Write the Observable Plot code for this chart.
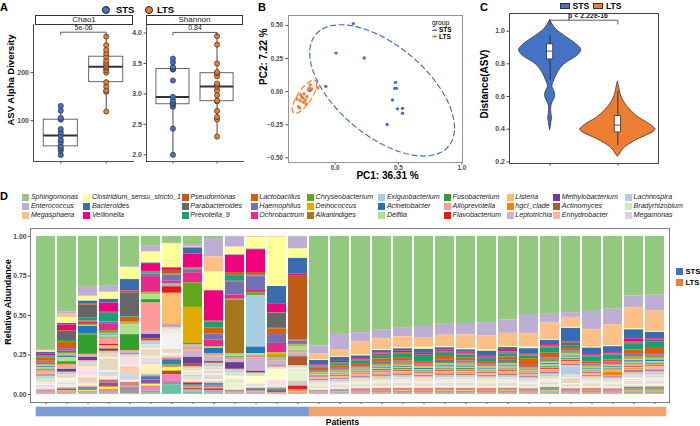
<!DOCTYPE html>
<html>
<head>
<meta charset="utf-8">
<script src="https://cdn.jsdelivr.net/npm/d3@7"></script>
<script src="https://cdn.jsdelivr.net/npm/@observablehq/plot@0.6"></script>
<style>
  html,body{margin:0;padding:0;background:#fff;}
  #fig{position:relative;width:700px;height:426px;overflow:hidden;background:#fff;font-family:"Liberation Sans",Arial,Helvetica,sans-serif;color:#000;}
  .t{position:absolute;white-space:nowrap;line-height:1;}
  .c{transform:translate(-50%,-50%);}
  .l{transform:translate(0,-50%);}
  .r{transform:translate(-50%,-50%) rotate(-90deg);}
  .b{font-weight:bold;}
  .strip{position:absolute;box-sizing:border-box;border:1px solid #333;background:#fff;font-size:8px;text-align:center;line-height:7px;color:#1a1a1a;}
  .leg{position:absolute;display:grid;grid-auto-flow:column;grid-template-rows:repeat(3,9px);}
  .leg div{display:flex;align-items:center;font-style:italic;font-size:7.1px;color:#1a1a1a;white-space:nowrap;}
  .leg span.sw{display:inline-block;width:7px;height:6.5px;margin-right:1.6px;flex:none;}
  .sq{position:absolute;box-sizing:border-box;}
  .dotk{position:absolute;border-radius:50%;box-sizing:border-box;border:0.8px solid #222;}
</style>
</head>
<body>
<div id="fig"></div>
<script>
// ---------------- DATA ----------------
const groups = ["STS", "LTS"];
const groupColors = ["#4472C4", "#ED7D31"];
const groupStripColors = ["#7C9CD6", "#F2A46F"];

// Panel A: alpha diversity
const chao1STS = [28.5, 37.5, 42, 46.5, 55, 60, 69, 75.7, 82.6, 102, 105.6, 120.8, 130.6];
const chao1LTS = [119, 160, 163, 171, 180, 200, 205, 210, 212, 216, 220, 225, 233, 240, 247, 257, 275];
const shannonSTS = [2.0, 2.43, 2.79, 2.83, 2.85, 2.89, 2.95, 3.22, 3.40, 3.41, 3.44, 3.52, 3.58];
const shannonLTS = [2.30, 2.58, 2.62, 2.72, 2.88, 2.89, 2.98, 3.06, 3.12, 3.15, 3.17, 3.29, 3.34, 3.36, 3.50, 3.81, 3.95];
const alphaMetrics = ["Chao1", "Shannon"];
const alphaPvalues = ["5e-06", "0.84"];
const chao1Bracket = [284, 278.5];
const shannonBracket = [4.01, 3.97];
const chao1Ticks = [100, 200];
const shannonTicks = [2.0, 2.5, 3.0, 3.5, 4.0];

// Panel B: PCoA
const pcoaSTS_PC1 = [0.144, 0.008, 0.230, 0.477, 0.471, 0.484, 0.453, 0.492, 0.532, 0.532, 0.411, -0.073, -0.196];
const pcoaSTS_PC2 = [0.514, 0.291, 0.254, 0.070, 0.025, 0.025, -0.063, -0.130, -0.126, -0.163, -0.248, 0.040, 0.008];
const pcoaLTS_PC1 = [-0.196, -0.204, -0.183, -0.136, -0.270, -0.254, -0.236, -0.275, -0.249, -0.228, -0.288, -0.262, -0.222, -0.244, -0.210, -0.301, -0.280];
const pcoaLTS_PC2 = [0.053, 0.028, 0.020, 0.028, -0.025, -0.047, -0.063, -0.068, -0.080, -0.093, -0.113, -0.043, -0.038, -0.017, 0.013, -0.055, -0.123];
const pcoaXTicks = [0, 0.5, 1.0];
const pcoaYTicks = [-0.5, -0.25, 0, 0.25, 0.5];

// Panel C: distance violins (value, half-width in x units)
const violinSTS_v = [1.067, 1.04, 1.01, 0.986, 0.96, 0.935, 0.91, 0.885, 0.86, 0.835, 0.81, 0.78, 0.75, 0.72, 0.69, 0.66, 0.64, 0.615, 0.59, 0.565, 0.54, 0.51, 0.485, 0.465, 0.445, 0.42, 0.394];
const violinSTS_w = [0, 0.037, 0.089, 0.163, 0.252, 0.341, 0.415, 0.46, 0.43, 0.356, 0.252, 0.17, 0.119, 0.082, 0.052, 0.033, 0.052, 0.074, 0.067, 0.037, 0.018, 0.015, 0.022, 0.03, 0.019, 0.012, 0];
const violinLTS_v = [0.69, 0.66, 0.62, 0.58, 0.55, 0.52, 0.49, 0.466, 0.445, 0.425, 0.41, 0.399, 0.385, 0.374, 0.36, 0.343, 0.328, 0.313, 0.297, 0.282, 0.266, 0.251, 0.24, 0.23];
const violinLTS_w = [0, 0.018, 0.037, 0.074, 0.119, 0.178, 0.252, 0.326, 0.415, 0.489, 0.534, 0.556, 0.534, 0.489, 0.415, 0.326, 0.252, 0.193, 0.133, 0.089, 0.059, 0.037, 0.018, 0];
const distQ1 = [0.827, 0.38];
const distMedian = [0.878, 0.425];
const distQ3 = [0.919, 0.48];
const distLo = [0.70, 0.30];
const distHi = [0.975, 0.63];
const distBracket = [1.067, 1.043];
const distP = "p < 2.22e-16";
const distTicks = [0.2, 0.4, 0.6, 0.8, 1.0];

// Panel D: relative abundance
const genera = ["Sphingomonas","Enterococcus","Megasphaera","Clostridium_sensu_stricto_1","Bacteroides","Veillonella",
  "Pseudomonas","Parabacteroides","Prevotella_9","Lactobacillus","Haemophilus","Ochrobactrum",
  "Chryseobacterium","Deinococcus","Alkanindiges","Exiguobacterium","Acinetobacter","Delftia",
  "Fusobacterium","Alloprevotella","Flavobacterium","Listeria","hgcI_clade","Leptotrichia",
  "Methylobacterium","Actinomyces","Enhydrobacter","Lachnospira","Bradyrhizobium","Megamonas"];
const generaColors = ["#92C97E","#BEAED4","#FDC086","#FFFF99","#386CB0","#F0027F",
  "#BF5B17","#666666","#1B9E77","#D95F02","#7570B3","#E7298A",
  "#66A61E","#E6AB02","#A6761D","#A6CEE3","#1F78B4","#B2DF8A",
  "#33A02C","#FB9A99","#E31A1C","#FDBF6F","#FF7F00","#CAB2D6",
  "#6A3D9A","#B15928","#FBB4AE","#B3CDE3","#CCEBC5","#DECBE4"];
const otherGenera = d3.range(31, 55).map(i => "Genus_" + i);
const otherColors = ["#FED9A6","#FFFFCC","#E5D8BD","#FDDAEC","#F2F2F2","#B3E2CD","#FDCDAC","#CBD5E8","#F4CAE4","#E6F5C9","#FFF2AE","#F1E2CC",
  "#CCCCCC","#E41A1C","#377EB8","#4DAF4A","#984EA3","#FF7F00","#FFFF33","#A65628","#F781BF","#999999","#66C2A5","#FC8D62"];
const patients = [...d3.range(1, 14).map(i => "STS" + i), ...d3.range(1, 18).map(i => "LTS" + i)];
const patientGroup = [...Array(13).fill("STS"), ...Array(17).fill("LTS")];
// % abundance of the 30 legend genera, one row per patient
const namedAbund = [
 [72.6,0.6,0.4,0.8,1.2,0.8,0.3,0.5,0.9,2.0, 0.7,0.6,0.8,0.3,0.4,0.7,0.5,1.2,0.6,0.8, 0.3,0.9,0.4,0.7,0.3,0.4,0.6,1.0,1.5,0.8],
 [48.1,1.3,2.1,3.8,1.0,3.6,0.5,5.7,0.8,4.4, 1.5,1.0,0.8,0.3,0.5,0.6,0.9,2.7,1.7,0.6, 0.3,0.8,0.3,1.2,1.4,0.5,0.6,0.9,1.2,1.0],
 [32.9,5.3,1.0,2.7,1.9,0.3,0.5,8.0,2.1,0.3, 0.5,1.5,0.5,0.2,0.2,0.3,5.1,0.3,12.7,0.4, 0.2,0.5,0.2,0.6,2.1,0.3,0.8,0.6,0.8,0.7],
 [31.4,4.2,0.4,4.2,2.3,5.9,0.3,0.5,5.3,0.3, 1.3,4.0,1.7,0.3,0.3,0.5,0.5,1.0,0.5,4.0, 1.0,0.8,0.3,0.8,1.0,0.6,1.2,0.6,0.8,0.6],
 [19.2,0.3,0.2,7.4,7.0,0.3,1.0,15.2,0.3,2.7, 0.3,0.3,0.3,0.2,0.2,0.2,0.3,6.3,10.1,0.4, 0.2,0.4,0.2,0.5,0.3,0.3,0.5,0.6,0.5,0.5],
 [5.9,3.8,0.3,6.8,0.3,4.9,0.5,0.3,0.5,0.3, 1.7,9.9,0.5,0.2,0.2,0.2,0.3,3.2,2.1,17.3, 0.3,0.4,0.3,1.5,2.7,1.5,0.6,1.7,0.8,0.8],
 [4.4,0.3,0.2,15.0,0.3,1.5,2.1,0.3,0.3,0.3, 3.8,1.5,0.3,0.2,0.2,0.2,0.3,0.3,0.3,0.3, 4.2,19.6,0.3,1.0,0.3,0.3,0.5,0.5,0.5,0.5],
 [4.4,2.1,0.3,0.3,3.8,8.4,0.4,0.3,0.3,0.3, 1.9,6.3,15.2,22.2,1.0,0.3,0.3,0.4,0.3,1.5, 0.3,0.4,0.3,4.0,4.2,1.7,0.5,0.5,0.8,0.5],
 [1.3,11.6,9.5,11.6,0.2,19.0,0.3,0.3,3.8,3.6, 3.8,4.2,0.3,0.2,0.2,0.4,3.2,0.4,0.3,0.4, 0.3,0.4,0.3,3.0,0.8,0.6,0.5,1.5,0.5,1.0],
 [0.2,6.5,0.2,4.9,0.2,11.0,1.7,0.2,3.6,0.3, 8.4,2.7,0.3,0.2,34.2,0.3,0.4,1.2,0.8,0.4, 0.3,0.4,0.3,1.5,4.2,0.4,0.8,1.0,1.2,0.8],
 [0.2,0.3,0.2,7.6,0.3,14.8,1.7,0.3,0.3,0.3, 8.4,2.1,1.7,0.2,0.2,33.1,4.2,1.5,0.3,0.3, 0.3,0.3,0.3,8.4,1.0,0.3,0.5,0.5,0.5,0.5],
 [0.2,0.2,0.2,31.4,11.0,5.7,0.3,9.7,0.3,3.6, 5.7,5.9,0.3,1.7,1.0,0.3,0.3,0.3,0.3,0.3, 0.3,0.3,0.3,3.2,0.3,0.3,0.3,0.3,0.5,0.3],
 [0.2,7.6,0.2,5.9,9.9,1.0,40.5,0.3,0.3,0.3, 1.7,0.5,0.3,0.2,0.2,0.2,0.3,2.7,0.3,0.3, 0.3,0.3,0.3,2.1,0.3,5.7,0.4,0.4,0.4,0.4],
 [69.2,4.9,3.8,0.4,2.7,0.6,0.3,0.5,0.8,1.5, 0.5,0.4,0.5,0.3,0.2,0.3,0.4,0.6,0.4,0.5, 0.3,0.5,0.3,0.5,0.2,0.3,0.5,0.6,0.6,0.5],
 [61.4,10.1,4.6,0.4,2.5,0.8,0.4,0.6,1.2,1.4, 0.6,0.5,0.4,0.3,0.2,0.4,0.5,0.7,0.5,0.6, 0.4,0.6,0.3,0.6,0.2,0.3,0.5,0.7,0.6,0.5],
 [60.8,5.5,8.4,0.8,1.7,0.5,0.3,0.8,1.5,1.2, 0.7,0.4,0.6,0.4,0.3,0.5,0.6,0.6,0.4,0.8, 0.3,0.7,0.4,0.5,0.3,0.4,0.6,0.6,0.7,0.5],
 [58.9,5.7,7.0,0.5,1.5,0.6,0.4,0.7,2.1,2.1, 0.8,0.5,0.6,0.4,0.3,0.5,0.7,0.8,0.6,0.7, 0.4,0.8,0.4,0.7,0.3,0.4,0.6,0.7,0.8,0.6],
 [57.6,5.7,7.0,0.6,1.5,1.0,0.5,0.5,2.1,2.1, 0.7,0.6,0.8,0.5,0.3,0.5,0.6,0.8,0.6,0.8, 0.5,0.7,0.4,0.7,0.3,0.4,0.7,0.8,0.7,0.6],
 [56.8,7.0,6.1,1.3,2.5,1.0,0.4,0.6,3.2,1.5, 0.6,0.5,0.7,0.4,0.3,0.4,0.7,0.7,0.5,0.7, 0.4,0.7,0.3,0.6,0.3,0.4,0.6,0.7,0.6,0.5],
 [55.1,7.4,7.4,0.5,1.5,0.8,0.5,0.7,2.0,2.4, 0.8,0.6,0.8,0.5,0.3,0.5,0.8,0.8,0.6,0.8, 0.5,0.8,0.4,0.7,0.3,0.4,0.7,0.8,0.8,0.6],
 [55.5,6.5,8.9,0.6,1.5,0.7,0.4,0.6,1.8,2.0, 0.8,0.5,0.7,0.5,0.3,0.5,0.7,0.8,0.6,0.9, 0.5,0.7,0.4,0.7,0.3,0.4,0.6,0.8,0.7,0.6],
 [54.4,8.4,8.6,1.0,3.2,0.6,0.3,0.5,1.9,1.6, 0.7,0.5,0.6,0.4,0.3,0.5,0.6,0.7,0.5,0.7, 0.4,0.6,0.3,0.6,0.3,0.4,0.5,0.7,0.6,0.5],
 [53.0,8.4,8.4,0.6,1.3,1.5,0.5,0.6,2.2,2.0, 0.8,0.6,0.8,0.5,0.3,0.5,0.7,0.8,0.6,0.9, 0.5,0.8,0.4,0.7,0.3,0.4,0.7,0.8,0.8,0.6],
 [49.2,12.2,8.4,1.0,3.2,0.6,0.4,0.5,1.6,4.2, 0.7,0.5,0.6,0.4,0.3,0.4,0.6,0.7,0.5,0.7, 0.4,0.6,0.3,0.6,0.3,0.3,0.6,0.7,0.6,0.5],
 [48.7,5.9,10.5,0.5,2.7,1.0,0.5,0.7,3.2,3.0, 0.8,0.6,0.8,0.5,0.3,0.6,0.8,0.9,0.6,0.9, 0.5,0.8,0.4,0.8,0.4,0.4,0.7,0.9,0.8,0.7],
 [47.9,3.0,6.3,0.6,8.2,0.5,0.4,2.1,1.5,1.4, 0.7,0.5,0.7,0.5,0.3,0.6,0.7,0.8,0.6,0.8, 0.5,0.8,0.4,0.7,0.3,0.4,0.7,5.3,0.8,0.6],
 [47.3,11.6,11.0,0.6,4.0,0.5,0.4,0.5,3.2,1.5, 0.7,0.5,0.6,0.4,0.3,0.5,0.6,0.7,0.5,0.7, 0.4,0.6,0.3,0.6,0.3,0.3,0.6,0.7,0.6,0.5],
 [46.2,9.9,13.3,0.6,3.8,0.5,0.4,0.5,3.2,1.2, 0.6,0.5,0.6,0.4,0.3,0.5,0.6,0.7,0.5,0.7, 0.4,0.6,2.7,0.6,0.3,0.3,0.6,0.7,0.6,0.5],
 [37.6,7.4,13.3,0.6,5.7,2.1,0.5,0.8,3.6,2.7, 0.9,0.7,0.9,0.6,0.4,0.6,0.9,1.0,0.7,1.0, 0.5,0.9,0.5,0.9,0.4,0.5,0.8,1.0,0.9,0.8],
 [36.7,9.9,12.7,0.6,4.0,0.5,0.5,0.8,4.2,3.2, 0.9,0.7,0.9,0.6,0.4,0.6,0.9,1.0,0.7,1.0, 0.5,0.9,0.5,0.9,0.4,0.5,0.8,1.0,0.9,0.8]
];
// % abundance of the remaining (unlabelled) genera, one row per patient
const otherAbund = [
 [0.4,0.5,0.3,0.4,0.5,0.3,0.4,0.4,0.3,0.3,0.2,0.3, 1.2,0.2,0.2,0.2,0.2,0.2,0.1,0.2,0.4,0.3,0.2,0.2],
 [0.4,1.0,0.3,0.6,0.7,0.3,0.4,0.4,0.3,0.3,0.8,0.3, 0.7,0.2,0.2,0.2,0.8,0.2,0.2,0.3,1.0,0.4,0.2,0.2],
 [1.2,1.0,0.6,4.2,0.8,0.5,2.6,0.6,0.5,0.4,0.5,0.4, 0.8,0.3,1.0,0.3,0.4,0.4,0.3,0.3,0.6,0.5,0.3,0.3],
 [0.8,0.6,7.4,0.8,0.6,0.6,0.8,0.5,1.0,0.5,0.6,0.5, 0.8,0.5,0.4,0.5,2.5,0.4,1.5,0.4,1.2,0.5,0.4,0.5],
 [0.3,0.3,0.4,4.0,0.3,0.3,5.0,3.5,0.3,0.3,0.3,0.3, 0.5,0.3,0.4,0.3,0.4,0.3,0.2,0.4,0.4,4.0,0.3,0.3],
 [0.8,0.6,4.2,1.0,0.6,0.6,0.8,0.6,1.7,0.6,4.6,0.8, 1.2,0.5,1.7,0.5,2.1,0.6,1.0,0.5,2.5,1.0,0.6,0.6],
 [0.6,0.6,0.6,0.6,10.1,0.6,0.6,0.8,0.6,0.6,0.6,0.6, 1.5,0.6,3.2,0.6,0.6,0.6,2.1,2.5,4.2,2.0,5.7,0.6],
 [0.5,0.8,0.5,0.5,0.4,1.2,0.5,0.4,0.5,0.8,0.5,0.4, 0.6,1.0,0.5,0.5,0.5,0.4,0.3,1.2,0.6,0.6,1.2,0.4],
 [0.5,0.5,1.5,0.5,0.8,0.5,0.5,1.0,0.5,0.5,0.5,0.5, 1.2,0.6,0.6,0.5,0.5,0.6,0.3,1.3,0.6,0.8,0.5,0.5],
 [0.3,2.0,0.3,0.3,0.3,0.3,0.3,0.3,0.3,4.0,0.3,0.3, 0.3,0.2,0.3,0.2,0.3,0.2,0.2,0.2,0.3,0.3,0.2,0.2],
 [0.3,4.2,0.3,0.3,0.3,0.3,0.3,0.3,0.3,0.3,0.3,0.3, 0.3,0.3,1.0,0.3,0.3,0.3,0.3,0.3,0.3,0.3,0.3,0.3],
 [0.15,7.0,0.15,3.5,0.15,0.15,0.15,0.15,0.15,0.15,0.15,0.15, 0.15,0.15,0.15,1.2,1.5,0.15,0.15,0.15,0.15,0.15,0.15,0.15],
 [0.25,0.25,0.25,0.25,0.25,0.25,0.25,0.25,0.25,5.3,0.25,0.25, 3.2,2.1,0.25,0.25,0.25,1.0,0.25,0.25,0.25,0.25,0.25,0.25],
 [0.3,0.4,0.3,0.4,0.3,0.3,0.4,0.3,0.3,0.3,0.3,0.3, 0.4,0.2,0.2,0.2,0.2,0.2,0.2,0.2,0.3,0.3,0.2,0.2],
 [0.3,0.4,0.4,0.3,0.3,0.3,0.4,0.3,0.3,0.4,0.3,0.3, 0.4,0.2,0.3,0.2,0.3,0.2,0.2,0.3,0.3,0.3,0.3,0.2],
 [0.4,0.4,0.3,0.4,0.4,0.3,0.4,0.4,0.3,0.3,0.4,0.3, 0.4,0.3,0.3,0.3,0.3,0.3,0.2,0.3,0.4,0.4,0.3,0.3],
 [0.4,0.5,0.4,0.4,0.4,0.3,0.5,0.4,0.4,0.4,0.4,0.3, 0.5,0.3,0.3,0.3,0.3,0.3,0.2,0.4,0.4,0.4,0.3,0.3],
 [0.5,0.5,0.4,0.4,0.4,0.4,0.5,0.4,0.4,0.4,0.4,0.4, 0.5,0.3,0.3,0.3,0.3,0.3,0.2,0.4,0.4,0.4,0.4,0.3],
 [0.5,0.4,0.4,0.5,0.3,0.4,0.4,0.4,0.3,0.4,0.4,0.3, 0.5,0.3,0.3,0.3,0.3,0.3,0.3,0.4,0.3,0.4,0.3,0.3],
 [0.5,0.5,0.4,0.4,0.4,0.4,0.5,0.4,0.4,0.4,0.4,0.4, 0.5,0.3,0.3,0.3,0.3,0.3,0.2,0.4,0.4,0.4,0.4,0.3],
 [0.4,0.5,0.5,0.4,0.4,0.4,0.5,0.4,0.4,0.4,0.4,0.4, 0.5,0.3,0.3,0.3,0.3,0.3,0.2,0.4,0.4,0.4,0.4,0.3],
 [0.4,0.5,0.4,0.4,0.4,0.3,0.5,0.4,0.4,0.4,0.4,0.3, 0.5,0.3,0.3,0.3,0.3,0.3,0.2,0.4,0.4,0.4,0.3,0.3],
 [0.5,0.4,0.4,0.5,0.4,0.4,0.4,0.5,0.4,0.4,0.4,0.4, 0.5,0.3,0.3,0.3,0.3,0.3,0.2,0.4,0.4,0.4,0.4,0.3],
 [0.4,0.4,0.3,0.4,0.4,0.3,0.4,0.4,0.3,0.3,0.4,0.3, 0.4,0.3,0.3,0.3,0.3,0.3,0.2,0.3,0.4,0.4,0.3,0.3],
 [0.5,0.5,0.4,0.5,0.4,0.4,0.5,0.4,0.4,0.4,0.4,0.4, 0.5,0.4,0.4,0.3,0.4,0.3,0.3,0.4,0.5,0.4,0.4,0.4],
 [0.4,0.4,3.0,0.4,0.4,0.3,0.4,0.4,0.3,0.3,0.4,0.3, 0.4,0.3,0.3,0.3,0.3,0.3,0.2,0.3,0.4,0.4,0.3,0.3],
 [0.4,0.5,0.4,0.4,0.4,0.3,0.5,0.4,0.4,0.4,0.4,0.3, 0.5,0.3,0.3,0.3,0.3,0.3,0.2,0.4,0.4,0.4,0.3,0.3],
 [0.4,0.4,0.3,0.4,0.4,0.3,0.4,0.4,0.3,0.3,0.4,0.3, 0.4,0.3,0.3,0.3,0.3,0.3,0.2,0.3,0.4,0.4,0.3,0.3],
 [0.5,0.5,0.5,0.5,0.4,0.4,0.5,0.5,0.4,0.4,0.4,0.4, 0.6,0.4,0.4,0.4,0.4,0.4,0.3,0.4,0.5,0.5,0.4,0.4],
 [0.5,0.5,0.5,0.5,0.5,0.4,0.5,0.5,0.4,0.4,0.5,0.4, 0.6,0.4,0.4,0.4,0.4,0.4,0.3,0.4,0.5,0.5,0.4,0.4]
];
const abundTicks = [0, 0.25, 0.5, 0.75, 1.0];

// ---------------- HELPERS ----------------
const FONT = "Liberation Sans, Arial, Helvetica, sans-serif";
const fig = document.getElementById("fig");
function baseStyle(size) {
  return {fontFamily: FONT, fontSize: size + "px", fontWeight: "bold", color: "#4d4d4d", background: "transparent", overflow: "visible"};
}
function place(node, left, top) {
  node.style.position = "absolute";
  node.style.left = left + "px";
  node.style.top = top + "px";
  fig.appendChild(node);
  return node;
}
function txt(s, x, y, cls, css) {
  const d = document.createElement("div");
  d.className = "t " + cls;
  d.textContent = s;
  d.style.left = x + "px";
  d.style.top = y + "px";
  if (css) d.style.cssText += css;
  fig.appendChild(d);
  return d;
}
function box(cls, x, y, w, h, css) {
  const d = document.createElement("div");
  d.className = cls;
  d.style.cssText += `left:${x}px;top:${y}px;width:${w}px;height:${h}px;` + (css || "");
  fig.appendChild(d);
  return d;
}
function boxStats(pos, arr) {
  const s = arr.slice().sort(d3.ascending);
  const q1 = d3.quantile(s, 0.25), q3 = d3.quantile(s, 0.75), iqr = q3 - q1;
  return {pos, q1, med: d3.quantile(s, 0.5), q3,
    lo: d3.min(s.filter(v => v >= q1 - 1.5 * iqr)), hi: d3.max(s.filter(v => v <= q3 + 1.5 * iqr))};
}

// ---------------- PANEL A ----------------
function alphaPanel(sts, lts, yDomain, yTicks, fmt, bracket, pText, w) {
  const pts = [...sts.map(v => ({pos: 1, grp: "STS", v})), ...lts.map(v => ({pos: 2, grp: "LTS", v}))];
  const stats = [boxStats(1, sts), boxStats(2, lts)];
  const br = [{x: 1, y: bracket[1]}, {x: 1, y: bracket[0]}, {x: 2, y: bracket[0]}, {x: 2, y: bracket[1]}];
  const hw = 0.375;
  return Plot.plot({
    width: w, height: 168, marginLeft: 33, marginRight: 2, marginTop: 24, marginBottom: 7,
    style: baseStyle(7),
    x: {domain: [0.4, 2.6], ticks: [1, 2], tickFormat: () => "", tickSize: 2.5, line: true, label: null},
    y: {domain: yDomain, ticks: yTicks, tickFormat: fmt, tickSize: 2.5, tickPadding: 2, line: true, label: null},
    color: {domain: groups, range: groupColors},
    marks: [
      Plot.ruleX(stats, {x: "pos", y1: "lo", y2: "hi", stroke: "#333", strokeWidth: 0.9}),
      Plot.rect(stats, {x1: d => d.pos - hw, x2: d => d.pos + hw, y1: "q1", y2: "q3", fill: "white", stroke: "#555", strokeWidth: 0.9}),
      Plot.ruleY(stats, {y: "med", x1: d => d.pos - hw, x2: d => d.pos + hw, stroke: "#333", strokeWidth: 2}),
      Plot.dot(pts, {x: "pos", y: "v", fill: "grp", stroke: "#222", strokeWidth: 0.6, r: 2.6}),
      Plot.line(br, {x: "x", y: "y", stroke: "#333", strokeWidth: 0.8}),
      Plot.text([pText], {x: 1.5, y: bracket[0], text: d => d, dy: -4.5, fontSize: 7, fontWeight: "normal", fill: "#222"})
    ]
  });
}
place(alphaPanel(chao1STS, chao1LTS, [15, 300], chao1Ticks, d3.format("d"), chao1Bracket, alphaPvalues[0], 135), 0, 0);
place(alphaPanel(shannonSTS, shannonLTS, [1.89, 4.14], shannonTicks, d3.format(".1f"), shannonBracket, alphaPvalues[1], 132), 113, 0);
const s1 = box("strip", 35, 15, 98, 9.5); s1.textContent = alphaMetrics[0];
const s2 = box("strip", 146, 15, 97, 9.5); s2.textContent = alphaMetrics[1];
txt("A", 0, 2, "b", "font-size:11px;");
box("dotk", 101.7, 5.7, 8.6, 8.6, `background:${groupColors[0]};`);
txt("STS", 116, 10, "l b", "font-size:9.4px;");
box("dotk", 144.7, 5.7, 8.6, 8.6, `background:${groupColors[1]};`);
txt("LTS", 157, 10, "l b", "font-size:9.4px;");
txt("ASV Alpha Diversity", 11, 80, "r b", "font-size:9.5px;");

// ---------------- PANEL B ----------------
function covTrob(pts, nu = 5, maxit = 25, tol = 0.01) {
  const n = pts.length, p = 2;
  let loc = [d3.mean(pts, d => d[0]), d3.mean(pts, d => d[1])];
  let w = new Array(n).fill(1);
  let X = pts.map(d => [d[0] - loc[0], d[1] - loc[1]]);
  for (let iter = 0; iter < maxit; iter++) {
    const w0 = w.slice();
    X = pts.map(d => [d[0] - loc[0], d[1] - loc[1]]);
    const sw = d3.sum(w);
    let a = 0, b = 0, c = 0;
    X.forEach((x, i) => { const wi = w[i] / sw; a += wi * x[0] * x[0]; b += wi * x[0] * x[1]; c += wi * x[1] * x[1]; });
    const det = a * c - b * b;
    const Q = X.map(x => (c * x[0] * x[0] - 2 * b * x[0] * x[1] + a * x[1] * x[1]) / det);
    w = Q.map(q => (nu + p) / (nu + q));
    const sw2 = d3.sum(w);
    loc = [d3.sum(pts, (d, i) => w[i] * d[0]) / sw2, d3.sum(pts, (d, i) => w[i] * d[1]) / sw2];
    if (w.every((wi, i) => Math.abs(wi - w0[i]) < tol)) break;
  }
  let a = 0, b = 0, c = 0;
  X.forEach((x, i) => { a += w[i] * x[0] * x[0]; b += w[i] * x[0] * x[1]; c += w[i] * x[1] * x[1]; });
  return {center: loc, cov: [a / n, b / n, c / n]};
}
function ellipse(xs, ys, grp, level = 0.95, segments = 51) {
  const pts = xs.map((x, i) => [x, ys[i]]);
  const {center, cov} = covTrob(pts);
  const m = pts.length - 1;
  const fq = (m / 2) * (Math.pow(1 - level, -2 / m) - 1);
  const radius = Math.sqrt(2 * fq);
  const r11 = Math.sqrt(cov[0]), r12 = cov[1] / r11, r22 = Math.sqrt(cov[2] - r12 * r12);
  return d3.range(segments + 1).map(k => {
    const t = k * 2 * Math.PI / segments, u = Math.cos(t), v = Math.sin(t);
    return {grp, x: center[0] + radius * (u * r11), y: center[1] + radius * (u * r12 + v * r22)};
  });
}
const pcoaPts = [
  ...pcoaSTS_PC1.map((x, i) => ({grp: "STS", x, y: pcoaSTS_PC2[i]})),
  ...pcoaLTS_PC1.map((x, i) => ({grp: "LTS", x, y: pcoaLTS_PC2[i]}))
];
const ellPts = [...ellipse(pcoaSTS_PC1, pcoaSTS_PC2, "STS"), ...ellipse(pcoaLTS_PC1, pcoaLTS_PC2, "LTS")];
place(Plot.plot({
  width: 240, height: 190, marginLeft: 58, marginRight: 8, marginTop: 15, marginBottom: 28,
  style: baseStyle(6.3),
  x: {domain: [-0.367, 1.005], ticks: pcoaXTicks, tickFormat: d3.format(".1f"), tickSize: 2.5, tickPadding: 0.5, label: null},
  y: {domain: [-0.535, 0.575], ticks: pcoaYTicks, tickFormat: d3.format(".2f"), tickSize: 2.5, tickPadding: 3, label: null},
  color: {domain: groups, range: groupColors},
  marks: [
    Plot.frame({stroke: "#8a8a8a", strokeWidth: 0.9}),
    Plot.line(ellPts, {x: "x", y: "y", z: "grp", stroke: "grp", strokeDasharray: "5,3.5", strokeWidth: 1.2}),
    Plot.dot(pcoaPts, {x: "x", y: "y", fill: "grp", r: 1.7}),
    Plot.text(["PC1: 36.31 %"], {frameAnchor: "bottom", text: d => d, dx: 12, dy: 16.5, fontSize: 10, fontWeight: "bold", fill: "#000"}),
    Plot.text(["PC2: 7.22 %"], {frameAnchor: "left", text: d => d, rotate: -90, dx: -25, dy: -4, fontSize: 10, fontWeight: "bold", fill: "#000"})
  ]
}), 230, 0);
txt("B", 258, 7, "l b", "font-size:11px;");
txt("group", 432, 23, "l", "font-size:6.8px;");
function keyPC(y, col) {
  box("sq", 432.3, y - 0.5, 5.2, 1, `background:${col};`);
  box("dotk", 433.5, y - 1.4, 2.8, 2.8, `background:${col};border:none;`);
}
keyPC(30, groupColors[0]); txt("STS", 439, 30, "l b", "font-size:6.5px;");
keyPC(36.8, groupColors[1]); txt("LTS", 439, 36.8, "l b", "font-size:6.5px;");

// ---------------- PANEL C ----------------
const violinData = [
  ...violinSTS_v.map((v, i) => ({grp: "STS", pos: 1, v, w: violinSTS_w[i]})),
  ...violinLTS_v.map((v, i) => ({grp: "LTS", pos: 2, v, w: violinLTS_w[i]}))
];
const distStats = groups.map((g, i) => ({grp: g, pos: i + 1, q1: distQ1[i], med: distMedian[i], q3: distQ3[i], lo: distLo[i], hi: distHi[i]}));
const cBr = [{x: 1, y: distBracket[1]}, {x: 1, y: distBracket[0]}, {x: 2, y: distBracket[0]}, {x: 2, y: distBracket[1]}];
const bw = 0.046;
place(Plot.plot({
  width: 230, height: 190, marginLeft: 39, marginRight: 42, marginTop: 13, marginBottom: 27,
  style: baseStyle(7),
  x: {domain: [0.4, 2.6], ticks: [1, 2], tickFormat: () => "", tickSize: 2.5, label: null},
  y: {domain: [0.19, 1.108], ticks: distTicks, tickFormat: d3.format(".1f"), tickSize: 2.5, tickPadding: 2, label: null},
  color: {domain: groups, range: groupColors},
  marks: [
    Plot.areaX(violinData, {y: "v", x1: d => d.pos - d.w, x2: d => d.pos + d.w, z: "grp", fill: "grp", stroke: "#333", strokeWidth: 0.8, curve: "catmull-rom"}),
    Plot.ruleX(distStats, {x: "pos", y1: "lo", y2: "hi", stroke: "#333", strokeWidth: 1}),
    Plot.rect(distStats, {x1: d => d.pos - bw, x2: d => d.pos + bw, y1: "q1", y2: "q3", fill: "white", stroke: "#333", strokeWidth: 0.8}),
    Plot.ruleY(distStats, {y: "med", x1: d => d.pos - bw, x2: d => d.pos + bw, stroke: "#333", strokeWidth: 0.9}),
    Plot.line(cBr, {x: "x", y: "y", stroke: "#333", strokeWidth: 0.8}),
    Plot.text([distP], {x: 1.5, y: distBracket[0], text: d => d, dx: 4, dy: -4, fontSize: 7, fontWeight: "bold", fill: "#222"}),
    Plot.frame({stroke: "#333", strokeWidth: 0.9})
  ]
}), 470, 0);
txt("C", 480, 7, "l b", "font-size:11px;");
box("sq", 560, 2.7, 10, 6.8, `background:${groupColors[0]};border:0.8px solid #333;`);
txt("STS", 572.5, 6.2, "l b", "font-size:8.6px;");
box("sq", 593.3, 2.7, 10, 6.8, `background:${groupColors[1]};border:0.8px solid #333;`);
txt("LTS", 606, 6.2, "l b", "font-size:8.6px;");
txt("Distance(ASV)", 485, 84, "r b", "font-size:10px;");

// ---------------- PANEL D ----------------
const allGenera = [...genera, ...otherGenera];
const allColors = [...generaColors, ...otherColors];
const dData = [];
patients.forEach((p, i) => {
  genera.forEach((g, j) => dData.push({patient: p, genus: g, value: namedAbund[i][j]}));
  otherGenera.forEach((g, j) => dData.push({patient: p, genus: g, value: otherAbund[i][j]}));
});
place(Plot.plot({
  width: 700, height: 186, marginLeft: 30, marginRight: 31, marginTop: 6, marginBottom: 6,
  style: baseStyle(6.8),
  x: {domain: patients, paddingInner: 0.1, paddingOuter: 0.15, tickFormat: () => "", tickSize: 2, label: null},
  y: {domain: [-0.05, 1.05], ticks: abundTicks, tickFormat: d3.format(".2f"), tickSize: 2, tickPadding: 2, label: null},
  color: {domain: allGenera, range: allColors},
  marks: [
    Plot.barY(dData, Plot.stackY({x: "patient", y: "value", fill: "genus", offset: "normalize", reverse: true})),
    Plot.frame({stroke: "#7f7f7f", strokeWidth: 1})
  ]
}), 0, 222);
place(Plot.plot({
  width: 700, height: 9, marginLeft: 33, marginRight: 32, marginTop: 0, marginBottom: 0,
  style: {background: "transparent", overflow: "visible"},
  x: {domain: patients, padding: 0, axis: null},
  color: {domain: groups, range: groupStripColors},
  marks: [Plot.cell(patients, {x: d => d, fill: (d, i) => patientGroup[i], stroke: (d, i) => patientGroup[i], strokeWidth: 0.6, inset: 0})]
}), 0, 406.5);
txt("D", 0, 196, "l b", "font-size:11px;");
txt("Relative Abundance", 8, 302, "r b", "font-size:9px;");
txt("Patients", 342.5, 421.5, "c b", "font-size:8.6px;");
// genus legend
const leg = document.createElement("div");
leg.className = "leg";
leg.style.left = "22.3px"; leg.style.top = "192.8px";
leg.style.gridTemplateColumns = "61px 98.4px 69px 56.3px 71.3px 65.7px 62.7px 46.6px 71.7px 70px";
genera.forEach((g, i) => {
  const it = document.createElement("div");
  const sw = document.createElement("span");
  sw.className = "sw"; sw.style.background = generaColors[i];
  it.appendChild(sw);
  it.appendChild(document.createTextNode(g));
  leg.appendChild(it);
});
fig.appendChild(leg);
// group legend
box("sq", 676, 268, 7, 7, `background:${groupColors[0]};`);
txt("STS", 685.5, 271.5, "l b", "font-size:7.6px;");
box("sq", 676, 279, 7, 7, `background:${groupColors[1]};`);
txt("LTS", 685.5, 282.5, "l b", "font-size:7.6px;");
</script>
</body>
</html>
